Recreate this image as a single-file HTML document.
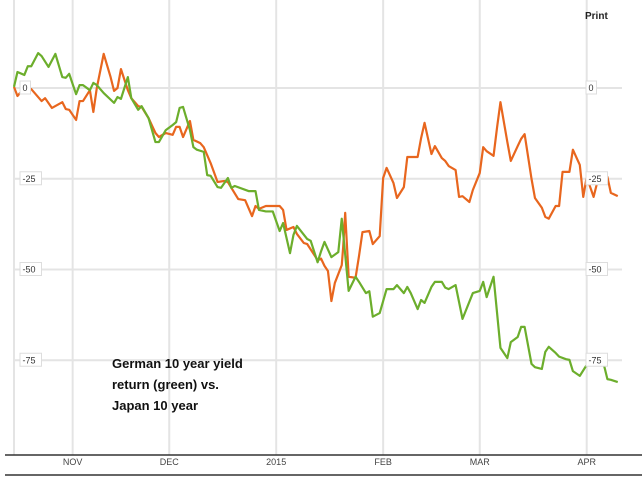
<!DOCTYPE html>
<html><head><meta charset="utf-8"><style>
html,body{margin:0;padding:0;background:#fff;}
svg{display:block;font-family:"Liberation Sans",sans-serif;}
</style></head><body>
<svg id="chart" width="642" height="483" viewBox="0 0 642 483" xmlns="http://www.w3.org/2000/svg">
<g id="grid"></g>
<g id="series"></g>
<g id="ylabels"></g>
<line x1="5" y1="455" x2="642" y2="455" stroke="#333" stroke-width="1.5"/>
<line x1="5" y1="475" x2="642" y2="475" stroke="#333" stroke-width="1.5"/>
<g id="xlabels"></g>
<text x="585" y="19" font-size="10" font-weight="bold" fill="#222">Print</text>
<g font-size="13" font-weight="bold" fill="#111">
<text x="112" y="368">German 10 year yield</text>
<text x="112" y="389">return (green) vs.</text>
<text x="112" y="410">Japan 10 year</text>
</g>
</svg>
<script>
const monthLabels=["NOV","DEC","2015","FEB","MAR","APR"];
const monthDays=[17,45,76,107,135,166];
const yTicks=[0,-25,-50,-75];
const greenDays=[0,1,3,4,5,7,8,10,12,14,15,16,18,19,20,22,23,24,26,29,30,31,33,34,36,37,39,41,42,44,46,47,48,49,51,52,53,55,56,57,59,60,62,63,64,68,70,71,73,75,77,78,80,81,82,85,86,88,89,90,92,94,95,97,99,100,102,103,104,106,108,110,111,113,114,115,117,118,119,121,122,124,125,126,128,130,133,135,136,137,139,141,143,144,146,147,148,150,151,153,154,155,157,158,160,161,162,164,166,169,171,172,173,175];
const greenVals=[0.3,4.4,3.6,6,6,9.6,8.8,5.8,9.4,3,2.8,3.9,-1.7,0.8,0.8,-0.6,1.4,0.8,-1.4,-4.1,-2.5,-3,3,-2.8,-6,-5,-8.3,-14.9,-14.9,-11.6,-10.2,-9.4,-5.5,-5.2,-11.6,-16.3,-17,-17.6,-24,-24.2,-27.3,-27.5,-24.8,-27.5,-27,-28.4,-28.4,-33.6,-34,-34,-39.4,-37.2,-45.5,-40.5,-38,-41.6,-42.1,-48,-45,-42.4,-46.6,-45.2,-36,-55.9,-52,-53.4,-56.5,-56,-63,-62,-55.4,-55.4,-54.3,-56.5,-54.8,-56.5,-60.9,-58.4,-59.2,-54.8,-53.4,-53.4,-55,-55.4,-54.3,-63.6,-56.5,-55.9,-53.4,-57.6,-52,-71.6,-74.4,-70,-68.6,-65.8,-65.8,-76,-76.9,-77.4,-72.7,-71.3,-73,-74,-74.7,-74.9,-78,-79.3,-76.3,-76.3,-76.3,-80.2,-80.4,-81,-81];
const orangeDays=[0,1,3,5,8,9,11,14,15,16,18,19,20,22,23,24,26,28,29,30,31,33,34,36,37,39,41,42,44,46,47,48,49,51,52,54,55,57,59,61,62,63,65,67,69,70,71,73,77,78,79,81,82,84,85,88,89,90,91,92,93,95,95.4,96,97,99,100,101,103,104,106,107,108,110,111,113,114,117,118,119,121,122,124,125,126,128,129,130,132,133,135,136,137,139,140,141,143,144,146,147,148,150,151,153,154,155,157,158,159,161,162,164,165,166,168,169,172,173,175];
const orangeVals=[0.3,-2.2,0,-0.3,-3.6,-2.8,-5.5,-3.9,-5.8,-6,-8.8,-3.6,-3.6,-0.6,-6.6,0,9.4,3,-0.8,0,5.2,-0.6,-2.8,-5,-5.2,-8.3,-12.4,-13.5,-12.4,-12.9,-10.7,-10.7,-13.5,-9.1,-14.3,-15.2,-16.3,-20.7,-25.9,-25.6,-25.9,-27.5,-30.6,-30.9,-35.3,-32.5,-33.3,-32.5,-32.5,-33.6,-39.1,-38.3,-40.2,-42.7,-43,-47.4,-47,-49,-50.4,-58.7,-53.7,-48.8,-44,-34.4,-52,-52.3,-46.3,-39.7,-39.4,-43,-40.8,-24.8,-22,-26.2,-30.3,-27.3,-19,-19,-13.8,-9.6,-18.2,-16,-19.3,-20.1,-21.5,-22.6,-30,-29.8,-31.4,-28.1,-23.4,-16.3,-17.4,-18.7,-11,-3.9,-14.9,-20.1,-16,-14,-12.7,-25,-30.3,-33,-35.5,-36,-32.5,-32.5,-23.1,-23.1,-17,-21.2,-30,-24.5,-30,-26.2,-24.5,-28.9,-29.8];

const NS="http://www.w3.org/2000/svg";
const xScale=d=>14+d*3.45;
const yScale=v=>88-v*3.63;
function mk(tag,attrs,parent){const e=document.createElementNS(NS,tag);for(const k in attrs)e.setAttribute(k,attrs[k]);parent.appendChild(e);return e;}
const grid=document.getElementById('grid');
const l0=mk('line',{x1:14,y1:0,x2:14,y2:455,stroke:'#e4e4e4','stroke-width':2},grid);


monthDays.forEach((d,i)=>{
  const g=mk('line',{x1:xScale(d),y1:0,x2:xScale(d),y2:455,stroke:'#e4e4e4','stroke-width':2},grid);
  
  
  const t=mk('text',{x:xScale(d),y:465,'font-size':9,'text-anchor':'middle',fill:'#444'},document.getElementById('xlabels'));
  t.textContent=monthLabels[i];
  
  
});
yTicks.forEach(v=>{
  const g=mk('line',{x1:14,y1:yScale(v),x2:622,y2:yScale(v),stroke:'#e4e4e4','stroke-width':2},grid);
  
  
});
function drawLine(days,vals,color,name){
  const p=mk('polyline',{points:days.map((d,i)=>xScale(d)+','+yScale(vals[i])).join(' '),fill:'none',stroke:color,'stroke-width':2.2,'stroke-linejoin':'round'},document.getElementById('series'));
  
  
}
drawLine(orangeDays,orangeVals,'#e8661e','japan-10y-line');
drawLine(greenDays,greenVals,'#6cae2c','german-10y-line');
const yl=document.getElementById('ylabels');
yTicks.forEach(v=>{
  [[20,'left'],[586,'right']].forEach(([x,side])=>{
    const s=String(v);const w=s.length*5.5+5;
    const r=mk('rect',{x:x,y:yScale(v)-7,width:w,height:13,fill:'#fff',stroke:'#ddd'},yl);
    
    
    const t=mk('text',{x:x+2.5,y:yScale(v)+3,'font-size':9,fill:'#333'},yl);
    t.textContent=s;
    
    
  });
});
</script>
</body></html>
